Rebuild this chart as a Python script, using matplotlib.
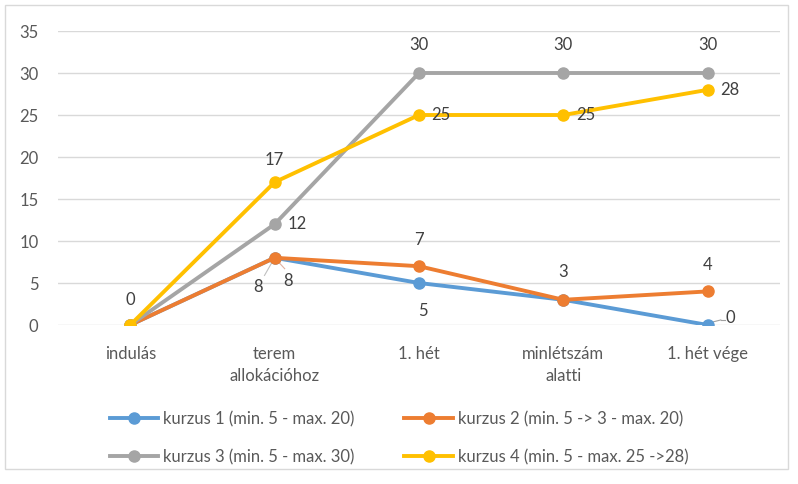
import matplotlib
matplotlib.use("Agg")
import matplotlib.pyplot as plt
from matplotlib.patches import Rectangle

plt.rcParams['font.family'] = ['Lato', 'DejaVu Sans']

categories = ["indulás", "terem\nallokációhoz", "1. hét", "minlétszám\nalatti", "1. hét vége"]
k1 = [0, 8, 5, 3, 0]
k2 = [0, 8, 7, 3, 4]
k3 = [0, 12, 30, 30, 30]
k4 = [0, 17, 25, 25, 28]
names = ["kurzus 1 (min. 5 - max. 20)", "kurzus 2 (min. 5 -> 3 - max. 20)",
         "kurzus 3 (min. 5 - max. 30)", "kurzus 4 (min. 5 - max. 25 ->28)"]
colors = ["#5B9BD5", "#ED7D31", "#A5A5A5", "#FFC000"]
yticks = [0, 5, 10, 15, 20, 25, 30, 35]

fig = plt.figure(figsize=(7.98, 4.84), dpi=100)
fig.patches.append(Rectangle((0.006, 0.03), 0.982, 0.96, transform=fig.transFigure,
                             fill=False, edgecolor="#D9D9D9", linewidth=1))
ax = fig.add_axes([58/798, 1-325/484, (780-58)/798, (325-31)/484])
x = list(range(len(categories)))
series = [k1, k2, k3, k4]
lines = []
for s, c, n in zip(series, colors, names):
    l, = ax.plot(x, s, color=c, lw=2.8, marker='o', ms=8, label=n, zorder=3)
    lines.append(l)

ax.set_xlim(-0.5, 4.5)
ax.set_ylim(0, 35)
ax.set_yticks(yticks)
ax.set_xticks(x)
ax.set_xticklabels(categories, fontsize=12, color="#595959", va='top', linespacing=1.5)
ax.tick_params(axis='y', labelsize=12, labelcolor="#595959", length=0, pad=14)
ax.tick_params(axis='x', length=0, pad=15)
ax.grid(axis='y', color="#D9D9D9", lw=1)
for sp in ax.spines.values():
    sp.set_visible(False)
ax.set_axisbelow(True)

lc = "#404040"
fs = 12
def lab(xi, yi, txt, dx, dy, ha='center', va='center'):
    ax.annotate(txt, (xi, yi), xytext=(dx, dy), textcoords='offset points',
                ha=ha, va=va, fontsize=fs, color=lc, zorder=4)

# kurzus 1
lab(0, k1[0], str(k1[0]), 0, 18)
lab(1, k1[1], str(k1[1]), -12, -21)
lab(2, k1[2], str(k1[2]), 3, -20)
lab(4, k1[4], str(k1[4]), 16, 5)
ax.plot([1, 0.93], [8, 5.9], color="#C0C0C0", lw=0.8, zorder=2)
ax.plot([1, 1.07], [8, 6.7], color="#E0B0A0", lw=0.8, zorder=2)
ax.plot([4.02, 4.09], [0.3, 0.6], color="#A0A0A0", lw=0.8, zorder=2)
ax.plot([4.09, 4.12], [0.6, 0.6], color="#A0A0A0", lw=0.8, zorder=2)
# kurzus 2
lab(1, k2[1], str(k2[1]), 10, -17)
lab(2, k2[2], str(k2[2]), 0, 19)
lab(3, k2[3], str(k2[3]), 0, 20)
lab(4, k2[4], str(k2[4]), 0, 19)
# kurzus 3
lab(1, k3[1], str(k3[1]), 9, 0, ha='left')
for i in (2, 3, 4):
    lab(i, k3[i], str(k3[i]), 0, 20)
# kurzus 4
lab(1, k4[1], str(k4[1]), 0, 16)
for i in (2, 3, 4):
    lab(i, k4[i], str(k4[i]), 9, 0, ha='left')

order = [0, 2, 1, 3]
leg = fig.legend(handles=[lines[i] for i in order], loc='center',
                 bbox_to_anchor=(0.5, 1-438/484), ncol=2,
                 frameon=False, fontsize=12, handlelength=2.9, columnspacing=3.0,
                 labelspacing=1.3, handletextpad=0.3)
for t in leg.get_texts():
    t.set_color("#595959")

fig.savefig("out.png", dpi=100)
